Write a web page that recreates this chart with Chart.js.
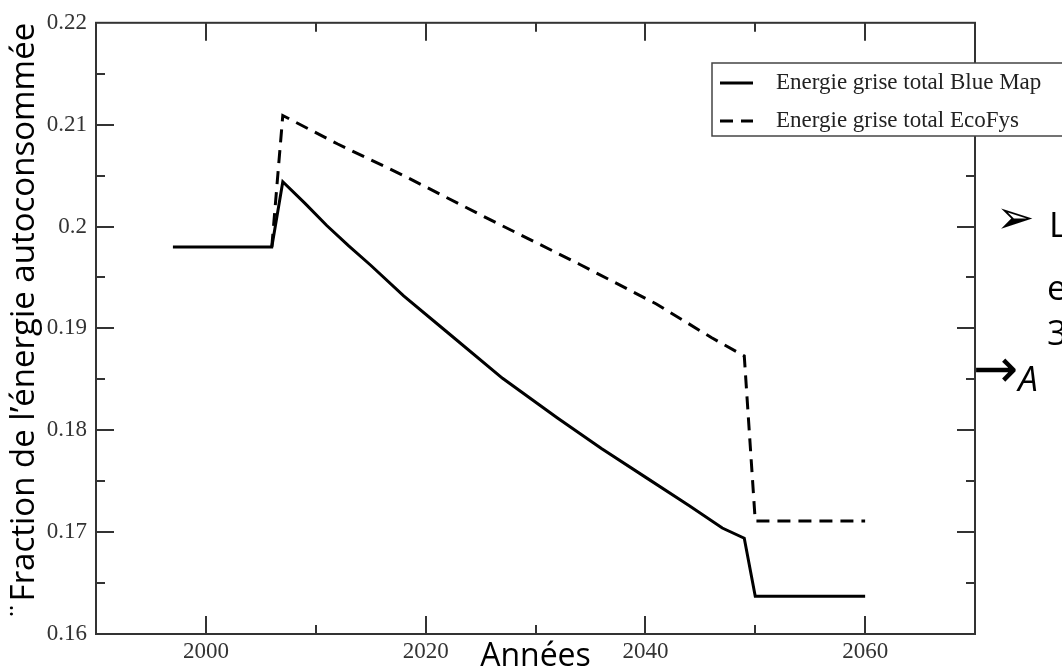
<!DOCTYPE html>
<html>
<head>
<meta charset="utf-8">
<script src="https://cdn.jsdelivr.net/npm/chart.js@4"></script>
<style>
  body { margin: 0; background: #fff; }
  #wrap { position: relative; width: 1062px; height: 671px; overflow: hidden; }
  .slide { position: absolute; font-family: "Open Sans", "DejaVu Sans", sans-serif; font-size: 35px; line-height: 1; color: #000; white-space: nowrap; }
</style>
</head>
<body>
<div id="wrap">
  <canvas id="myChart"></canvas>
  <div class="slide" style="left:996px; top:194px; font-family:'DejaVu Sans'; font-size:46px;">➢</div>
  <div class="slide" style="left:1049px; top:206px;">L</div>
  <div class="slide" style="left:1047px; top:269px;">e</div>
  <div class="slide" style="left:1047px; top:314px;">3</div>
  <div class="slide" style="left:973px; top:346px;"><span style="font-family:'DejaVu Sans'; font-size:54px; position:relative; top:-4px;">→</span><i>A</i></div>
</div>
<script>
// years and values
const blueMapYears = [1997, 2006, 2007, 2009, 2011, 2013, 2015, 2018, 2022, 2027, 2032, 2036, 2040, 2044, 2047, 2049, 2050, 2060];
const blueMapValues = [0.198, 0.198, 0.2044, 0.2023, 0.2001, 0.1981, 0.1962, 0.1932, 0.1896, 0.1851, 0.1812, 0.1782, 0.1754, 0.1726, 0.1704, 0.1694, 0.1637, 0.1637];
const ecoFysYears = [2006, 2007, 2012, 2018, 2026, 2034, 2041, 2046, 2049, 2050, 2060];
const ecoFysValues = [0.198, 0.2109, 0.2081, 0.2050, 0.2006, 0.1963, 0.1924, 0.1891, 0.1873, 0.1711, 0.1711];
const seriesLabels = ['Energie grise total Blue Map', 'Energie grise total EcoFys'];
const xTickLabels = [2000, 2020, 2040, 2060];
const yTickLabels = [0.16, 0.17, 0.18, 0.19, 0.2, 0.21, 0.22];

const ctx = document.getElementById('myChart').getContext('2d');

function points(xs, ys) {
  return xs.map((x, i) => ({x: x, y: ys[i]}));
}

// xmgrace style frame with inward ticks on all four sides + boxed legend
const framePlugin = {
  id: 'frame',
  afterDatasetsDraw(chart) {
    const {ctx, chartArea: a, scales: {x, y}} = chart;
    ctx.save();
    ctx.strokeStyle = '#333';
    ctx.lineWidth = 2;
    ctx.strokeRect(a.left, a.top, a.right - a.left, a.bottom - a.top);
    ctx.beginPath();
    x.ticks.forEach(t => {
      if (t.value <= x.min || t.value >= x.max) return;
      const px = Math.round(x.getPixelForValue(t.value));
      const len = xTickLabels.includes(t.value) ? 18 : 9;
      ctx.moveTo(px, a.bottom); ctx.lineTo(px, a.bottom - len);
      ctx.moveTo(px, a.top); ctx.lineTo(px, a.top + len);
    });
    y.ticks.forEach(t => {
      if (t.value <= y.min + 1e-9 || t.value >= y.max - 1e-9) return;
      const py = Math.round(y.getPixelForValue(t.value));
      const len = Math.round(t.value * 1000) % 10 === 0 ? 18 : 9;
      ctx.moveTo(a.left, py); ctx.lineTo(a.left + len, py);
      ctx.moveTo(a.right, py); ctx.lineTo(a.right - len, py);
    });
    ctx.stroke();

    // legend box
    const bx = 712, by = 63, bh = 73;
    ctx.fillStyle = '#fff';
    ctx.fillRect(bx, by, 400, bh);
    ctx.strokeStyle = '#444';
    ctx.lineWidth = 1.5;
    ctx.strokeRect(bx, by, 400, bh);
    ctx.font = '23px "Liberation Serif"';
    ctx.textBaseline = 'alphabetic';
    chart.data.datasets.forEach((ds, i) => {
      const ly = by + 20 + i * 38;
      ctx.strokeStyle = ds.borderColor;
      ctx.lineWidth = 3;
      ctx.setLineDash(ds.borderDash || []);
      ctx.beginPath();
      ctx.moveTo(bx + 8, ly); ctx.lineTo(bx + 41, ly);
      ctx.stroke();
      ctx.setLineDash([]);
      ctx.fillStyle = '#222';
      ctx.fillText(ds.label, bx + 64, ly + 6);
    });
    ctx.restore();
  }
};

new Chart(ctx, {
  type: 'line',
  data: {
    datasets: [{
      label: seriesLabels[0],
      data: points(blueMapYears, blueMapValues),
      borderColor: '#000',
      borderWidth: 3,
      pointRadius: 0,
      tension: 0
    }, {
      label: seriesLabels[1],
      data: points(ecoFysYears, ecoFysValues),
      borderColor: '#000',
      borderWidth: 3,
      borderDash: [13, 8],
      pointRadius: 0,
      tension: 0
    }]
  },
  options: {
    responsive: true,
    maintainAspectRatio: false,
    animation: false,
    layout: { padding: { top: 18, right: 87, left: 0, bottom: 0 } },
    plugins: {
      legend: { display: false },
      tooltip: { enabled: false }
    },
    scales: {
      x: {
        type: 'linear',
        min: 1990,
        max: 2070,
        grid: { display: false, drawTicks: false },
        border: { display: false },
        ticks: {
          stepSize: 10,
          autoSkip: false,
          maxRotation: 0,
          padding: 4,
          color: '#333',
          font: { family: 'Liberation Serif', size: 23 },
          callback: v => xTickLabels.includes(v) ? String(v) : ''
        },
        title: {
          display: true,
          text: 'Années',
          color: '#000',
          font: { family: 'Open Sans', size: 32, lineHeight: 0.8 },
          padding: { top: 0, bottom: 1 }
        },
        afterFit(scale) { scale.height = 37; }
      },
      y: {
        min: 0.16,
        max: 0.22,
        grid: { display: false, drawTicks: false },
        border: { display: false },
        ticks: {
          stepSize: 0.005,
          autoSkip: false,
          padding: 9,
          color: '#333',
          font: { family: 'Liberation Serif', size: 23 },
          callback: v => {
            const r = parseFloat(v.toFixed(3));
            return yTickLabels.includes(r) ? String(r) : '';
          }
        },
        title: {
          display: true,
          text: '¨Fraction de l’énergie autoconsommée',
          align: 'end',
          color: '#000',
          font: { family: 'Open Sans', size: 33, lineHeight: 1 },
          padding: { top: 8, bottom: 0 }
        },
        afterFit(scale) { scale.width = 96; }
      }
    }
  },
  plugins: [framePlugin]
});
</script>
</body>
</html>
